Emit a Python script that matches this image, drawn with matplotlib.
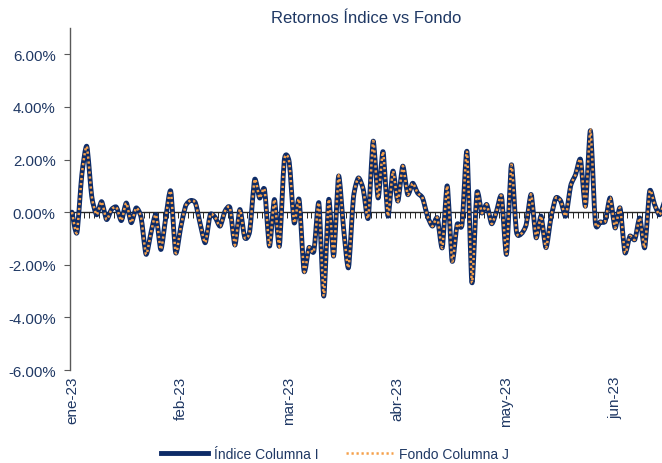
import matplotlib
matplotlib.use("Agg")
from matplotlib import pyplot as plt
from matplotlib.path import Path
from matplotlib.patches import PathPatch
from matplotlib.lines import Line2D
from matplotlib.ticker import PercentFormatter, FixedLocator
import numpy as np

# daily returns in %
indice = [0.0, -0.78, 1.43, 2.5, 0.6, -0.1, 0.4, -0.28, 0.1, 0.19,
          -0.32, 0.35, -0.4, 0.16, -0.2, -1.6, -0.78, -0.1, -1.42, -0.2,
          0.8, -1.54, -0.6, 0.23, 0.44, 0.35, -0.47, -1.16, -0.1, -0.2,
          -0.53, 0.04, 0.16, -1.25, 0.1, -0.97, -0.72, 1.24, 0.54, 0.86,
          -1.29, 0.48, -1.29, 1.98, 1.9, -0.4, 0.48, -2.24, -1.35, -1.48,
          0.35, -3.19, 0.48, -1.67, 1.37, -0.6, -2.11, 0.54, 1.3, 0.86,
          -0.22, 2.7, 0.54, 2.3, -0.15, 1.56, 0.42, 1.75, 0.67, 1.1,
          0.73, 0.54, -0.15, -0.53, -0.22, -1.35, 1.0, -1.86, -0.47, -0.47,
          2.3, -2.68, 0.73, -0.03, 0.29, -0.44, 0.04, 0.6, -1.6, 1.8,
          -0.72, -0.82, -0.47, 0.67, -0.97, -0.15, -1.35, -0.22, 0.54, 0.42,
          -0.15, 1.0, 1.43, 2.0, 0.23, 3.1, -0.4, -0.37, -0.34, 0.54,
          -0.6, 0.16, -1.54, -0.91, -1.04, -0.22, -1.35, 0.8, 0.29, -0.1,
          0.4]
# fund tracks the index, the two lines overlap in the picture
fondo = list(indice)

meses = ["ene-23", "feb-23", "mar-23", "abr-23", "may-23", "jun-23"]
paso_meses = 22

NAVY = "#0D2B67"
ORANGE = "#F5A04A"
TXT = "#1F3864"

plt.rcParams["font.family"] = ["Liberation Sans", "DejaVu Sans"]
plt.rcParams["axes.unicode_minus"] = False


def smooth_path(y, k=1 / 9.0):
    # excel-like smoothed line: catmull-rom turned into cubic bezier segments
    x = np.arange(len(y), dtype=float)
    y = np.asarray(y, dtype=float)
    pts = np.column_stack([x, y])
    verts = [pts[0]]
    codes = [Path.MOVETO]
    n = len(pts)
    for i in range(n - 1):
        p0 = pts[i - 1] if i > 0 else pts[i]
        p1 = pts[i]
        p2 = pts[i + 1]
        p3 = pts[i + 2] if i + 2 < n else pts[i + 1]
        c1 = p1 + (p2 - p0) * k
        c2 = p2 - (p3 - p1) * k
        verts += [c1, c2, p2]
        codes += [Path.CURVE4] * 3
    return Path(verts, codes)


fig = plt.figure(figsize=(6.62, 4.64), dpi=100)
ax = fig.add_axes([0.105, 0.2004, 0.895, 0.7371])

ax.add_patch(PathPatch(smooth_path(indice), fill=False, edgecolor=NAVY,
                       lw=3.5, capstyle="round", joinstyle="round", zorder=3))
ax.add_patch(PathPatch(smooth_path(fondo), fill=False, edgecolor=ORANGE,
                       lw=1.8, linestyle=(0, (0.9, 1.1)), zorder=4))

ax.set_xlim(-0.5, len(indice) - 1.5)
ax.set_ylim(-6, 7)

ax.yaxis.set_major_locator(FixedLocator([-6, -4, -2, 0, 2, 4, 6]))
ax.yaxis.set_major_formatter(PercentFormatter(xmax=100, decimals=2))
ax.tick_params(axis="y", labelsize=10.8, labelcolor=TXT, color="#595959",
               length=4, width=0.8, pad=6)

ax.set_xticks(np.arange(len(meses)) * paso_meses)
ax.set_xticklabels(meses, rotation=90, fontsize=11, color=TXT)
ax.tick_params(axis="x", length=0, pad=4)

for s in ["top", "right", "bottom"]:
    ax.spines[s].set_visible(False)
ax.spines["left"].set_color("#595959")
ax.spines["left"].set_linewidth(1.0)

# zero line with a small tick per category
zero = ax.secondary_xaxis(6 / 13)
zero.set_xticks(np.arange(len(indice)) + 0.5)
zero.set_xticklabels([])
zero.tick_params(length=4, width=0.7, color="#262626")
zero.spines["bottom"].set_color("#262626")
zero.spines["bottom"].set_linewidth(1.0)

ax.set_title("Retornos Índice vs Fondo", fontsize=12, color=TXT, pad=4)

handles = [Line2D([], [], color=NAVY, lw=3.5),
           Line2D([], [], color=ORANGE, lw=1.8, linestyle=(0, (0.9, 1.1)))]
fig.legend(handles, ["Índice Columna I", "Fondo Columna J"], loc="center",
           bbox_to_anchor=(0.506, 0.02), ncol=2, frameon=False, fontsize=10,
           labelcolor=TXT, handlelength=3.4, columnspacing=2.0, handletextpad=0.4)

fig.savefig("out.png", dpi=100)
